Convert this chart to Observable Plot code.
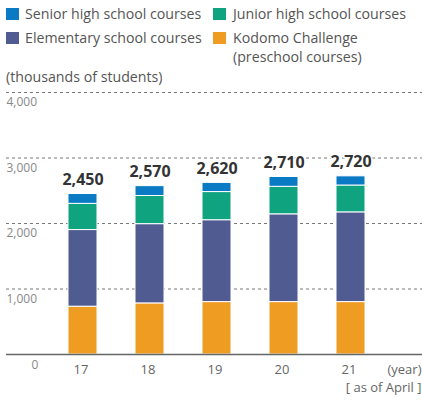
<!DOCTYPE html>
<html>
<head>
<meta charset="utf-8">
<script src="https://cdn.jsdelivr.net/npm/d3@7"></script>
<script src="https://cdn.jsdelivr.net/npm/@observablehq/plot@0.6"></script>
<style>
  body { margin: 0; background: #fff; font-family: "Open Sans", "Noto Sans", sans-serif; }
  #wrap { position: relative; width: 422px; height: 403px; overflow: hidden; }
  .sw { position: absolute; width: 13px; height: 12px; }
  .lt { position: absolute; font-size: 14.2px; line-height: 20px; color: #555; white-space: nowrap; }
  #chart { position: absolute; left: 0; top: 80px; }
</style>
</head>
<body>
<div id="wrap">
  <div class="sw" style="left:6px;top:8px;background:#0a7ac4"></div>
  <div class="lt" style="left:25px;top:4px">Senior high school courses</div>
  <div class="sw" style="left:213px;top:8px;background:#10a37f"></div>
  <div class="lt" style="left:233px;top:4px">Junior high school courses</div>
  <div class="sw" style="left:6px;top:32px;background:#4f5b91"></div>
  <div class="lt" style="left:25px;top:28px">Elementary school courses</div>
  <div class="sw" style="left:213px;top:32px;background:#ee9c22"></div>
  <div class="lt" style="left:233px;top:28px">Kodomo Challenge</div>
  <div class="lt" style="left:233px;top:47px">(preschool courses)</div>
  <div class="lt" style="left:6px;top:67px">(thousands of students)</div>
  <div id="chart"></div>
</div>
<script>
const years = ["17", "18", "19", "20", "21"];
const kodomo = [730, 780, 800, 800, 800];
const elementary = [1170, 1210, 1250, 1340, 1370];
const junior = [400, 430, 430, 420, 410];
const senior = [150, 150, 140, 150, 140];
const totals = [2450, 2570, 2620, 2710, 2720];
const yTicks = [1000, 2000, 3000, 4000];
const seriesNames = ["Kodomo Challenge", "Elementary", "Junior high", "Senior high"];
const seriesColors = ["#ee9c22", "#4f5b91", "#10a37f", "#0a7ac4"];

const seriesValues = [kodomo, elementary, junior, senior];
const rows = [];
years.forEach((yr, i) => {
  seriesNames.forEach((s, j) => rows.push({year: yr, series: s, value: seriesValues[j][i]}));
});
const totalRows = years.map((yr, i) => ({year: yr, total: totals[i]}));
const fmt = d3.format(",");

const chart = Plot.plot({
  width: 422,
  height: 323,
  marginTop: 12,
  marginBottom: 49,
  marginLeft: 6,
  marginRight: 0,
  style: {fontFamily: "'Open Sans', 'Noto Sans', sans-serif", background: "transparent"},
  x: {type: "band", domain: years, range: [49, 384.5], paddingInner: 0.568, paddingOuter: 0.284, axis: null},
  y: {domain: [0, 4000], axis: null},
  color: {domain: seriesNames, range: seriesColors},
  marks: [
    Plot.ruleY(yTicks, {stroke: "#777", strokeDasharray: "3,3", strokeWidth: 1}),
    Plot.barY(rows, {x: "year", y: "value", fill: "series", z: "series", order: seriesNames, stroke: "white", strokeWidth: 1}),
    Plot.ruleY([0], {stroke: "#666", strokeWidth: 1.5}),
    Plot.text(yTicks, {y: d => d, text: d => fmt(d), frameAnchor: "left", textAnchor: "start", dy: 10, fill: "#888", fontSize: 12}),
    Plot.text([0], {y: d => d, text: d => String(d), frameAnchor: "left", dx: 25, dy: 11, fill: "#888", fontSize: 12}),
    Plot.text(totalRows, {x: "year", y: "total", text: d => fmt(d.total), dy: -14, fontSize: 16, fontWeight: "bold", fill: "#333", stroke: "white", strokeWidth: 3}),
    Plot.text(years, {x: d => d, text: d => d, frameAnchor: "bottom", dy: 19, dx: -2, fill: "#666", fontSize: 13}),
    Plot.text(["(year)"], {text: d => d, frameAnchor: "bottom-right", textAnchor: "end", dx: -1, dy: 19, fill: "#666", fontSize: 13}),
    Plot.text(["[ as of April ]"], {text: d => d, frameAnchor: "bottom-right", textAnchor: "end", dx: -1, dy: 37, fill: "#666", fontSize: 13})
  ]
});
document.getElementById("chart").appendChild(chart);
</script>
</body>
</html>
